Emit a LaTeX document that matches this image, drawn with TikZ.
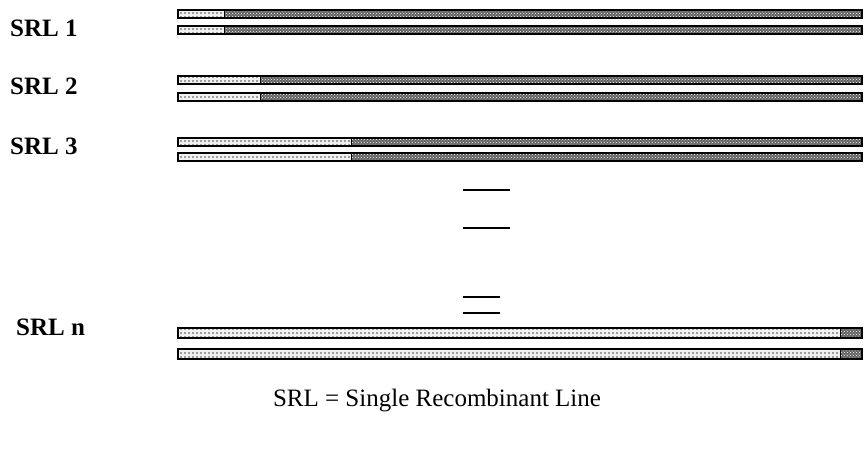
\documentclass[tikz,border=0pt]{standalone}
\usepackage{fontspec}
\setmainfont{Liberation Serif}
\usetikzlibrary{patterns}

% coarser dot pattern for the donor segments
\pgfdeclarepatternformonly{bigdots}{\pgfqpoint{-1pt}{-1pt}}{\pgfqpoint{4pt}{4pt}}{\pgfqpoint{4pt}{4pt}}%
{
  \pgfpathcircle{\pgfqpoint{1pt}{1pt}}{0.8pt}
  \pgfusepath{fill}
}

\tikzset{
  label/.style={font=\fontsize{25}{29}\selectfont\bfseries, anchor=west, inner sep=0pt},
  caption/.style={font=\fontsize{25}{29}\selectfont, inner sep=0pt},
  donor/.style={pattern=bigdots, pattern color=black!70},
  recurrent/.style={pattern=crosshatch dots, pattern color=white},
  outline/.style={draw=black, line width=1.2pt},
  gap/.style={line width=1.6pt, line cap=butt},
}

% one chromosome bar: top y, split x, height
\newcommand\chrombar[3]{%
  \fill[black!6] (178,#1) rectangle (#2,#1+#3);
  \fill[donor] (178,#1) rectangle (#2,#1+#3);
  \fill[black!62] (#2,#1) rectangle (862,#1+#3);
  \fill[recurrent] (#2,#1) rectangle (862,#1+#3);
  \draw[outline] (178,#1) rectangle (862,#1+#3);
  \draw[line width=0.8pt] (#2,#1) -- (#2,#1+#3);
}

\begin{document}
\begin{tikzpicture}[x=1pt,y=-1pt]
  \useasboundingbox (0,0) rectangle (864,450);

  % line labels
  \node[label] (l1) at (10,28) {SRL 1};
  \node[label] (l2) at (10,86) {SRL 2};
  \node[label] (l3) at (10,146) {SRL 3};
  \node[label] (ln) at (16,327) {SRL n};

  % chromosome pairs
  \chrombar{10}{224}{8}
  \chrombar{26}{224}{8}
  \chrombar{76}{260}{8}
  \chrombar{93}{260}{8}
  \chrombar{138}{351}{8}
  \chrombar{153}{351}{8}
  \chrombar{328}{840}{10}
  \chrombar{349}{840}{10}

  % ellipsis marks
  \draw[gap] (463,190) -- (510,190);
  \draw[gap] (463,228) -- (510,228);
  \draw[gap] (463,297) -- (500,297);
  \draw[gap] (463,313) -- (500,313);

  \node[caption] (cap) at (437,401) {SRL = Single Recombinant Line};
\end{tikzpicture}
\end{document}
